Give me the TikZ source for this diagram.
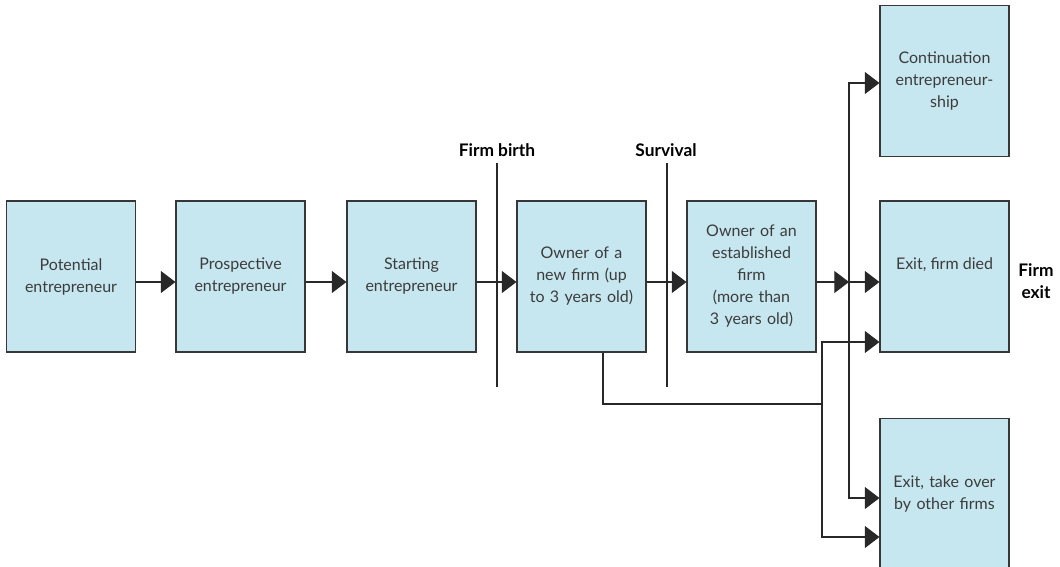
\documentclass[tikz,border=0pt]{standalone}
\usepackage{fontspec}
\setmainfont{Lato}
\usetikzlibrary{arrows.meta,calc}
\definecolor{boxfill}{RGB}{198,231,240}
\definecolor{boxline}{RGB}{55,55,55}
\definecolor{txtcol}{RGB}{60,60,60}
\definecolor{linecol}{RGB}{40,40,40}
\tikzset{
  box/.style={draw=boxline, line width=0.8pt, fill=boxfill, minimum width=96.75pt, minimum height=113.25pt, inner sep=0pt, text width=92pt, align=center, font=\fontsize{12pt}{16.5pt}\selectfont, text=txtcol},
  txt/.style={inner sep=0pt, align=center, font=\fontsize{12pt}{16.5pt}\selectfont, text=txtcol},
  bold/.style={inner sep=0pt, align=center, font=\fontsize{13pt}{16pt}\selectfont\bfseries, text=black},
  conn/.style={draw=linecol, line width=0.8pt},
  arr/.style={conn, -{Triangle[length=11pt,width=16.5pt]}},
  divider/.style={draw=linecol, line width=2.2pt}
}
\begin{document}
\begin{tikzpicture}[x=0.75pt,y=-0.75pt]
\useasboundingbox (0,0) rectangle (1060,567);
% main row
\node[box] (b1) at (71,276.5) {Potential\\entrepreneur};
\node[box] (b2) at (240.5,276.5) {Prospective\\entrepreneur};
\node[box] (b3) at (411.5,276.5) {Starting\\entrepreneur};
\node[box] (b4) at (581.5,276.5) {Owner of a\\new firm (up\\to 3 years old)};
\node[box] (b5) at (751.5,276.5) {Owner of an\\established\\firm\\(more than\\3 years old)};
% right column
\node[box] (c) at (944.5,81) {Continuation\\entrepreneur-\\ship};
\node[box] (d) at (944.5,276.5) {};
\node[txt] (dt) at (944.5,265) {Exit, firm died};
\node[box] (e) at (944.5,494) {Exit, take over\\by other firms};
% labels
\node[bold] (fb) at (497,150) {Firm birth};
\node[bold] (sv) at (666,150) {Survival};
\node[bold] (fe) at (1036,281) {Firm\\exit};
% dividers
\coordinate (fbt) at (497,163);
\coordinate (fbb) at (497,387);
\coordinate (svt) at (667,163);
\coordinate (svb) at (667,387);
\draw[divider] (fbt) -- (fbb);
\draw[divider] (svt) -- (svb);
% main arrows
\draw[arr] ($(b1.east)+(0,5.5)$) -- ($(b2.west)+(0,5.5)$);
\draw[arr] ($(b2.east)+(0,5.5)$) -- ($(b3.west)+(0,5.5)$);
\draw[arr] ($(b3.east)+(0,5.5)$) -- ($(b4.west)+(0,5.5)$);
\draw[arr] ($(b4.east)+(0,5.5)$) -- ($(b5.west)+(0,5.5)$);
% junctions
\coordinate (j1) at (849,282);
\coordinate (j2) at (822,404);
\draw[arr] ($(b5.east)+(0,5.5)$) -- (j1);
\draw[arr] (j1) -- ($(d.west)+(0,5.5)$);
\draw[arr] (j1) |- ($(c.west)+(0,2)$);
\draw[arr] (j1) |- ($(e.west)+(0,4)$);
\draw[conn] ($(b4.south)+(21.5,0)$) |- (j2);
\draw[arr] (j2) |- ($(d.west)+(0,65.5)$);
\draw[arr] (j2) |- ($(e.west)+(0,43)$);
\end{tikzpicture}
\end{document}
